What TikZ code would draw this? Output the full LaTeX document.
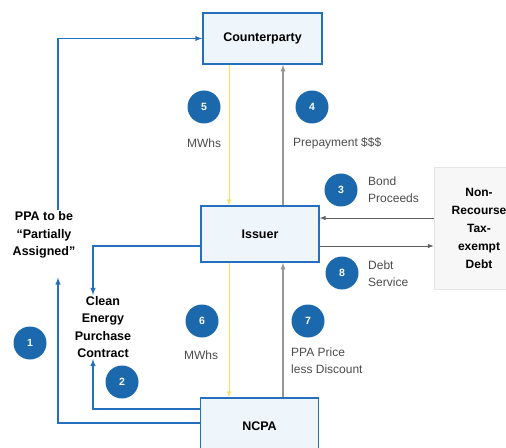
\documentclass[tikz,border=0pt]{standalone}
\usepackage{fontspec}
\setmainfont{Liberation Sans}
\usetikzlibrary{arrows}
\definecolor{B}{RGB}{36, 112, 190}
\definecolor{C}{RGB}{28, 104, 172}
\definecolor{F}{RGB}{238, 245, 251}
\definecolor{Y}{RGB}{250, 222, 90}
\definecolor{G}{RGB}{150, 150, 150}
\definecolor{D}{RGB}{95, 95, 95}
\definecolor{T}{RGB}{75, 75, 75}
\definecolor{N}{RGB}{228, 228, 228}

\tikzset{
  party/.style={draw=B, line width=1.5pt, fill=F, font=\bfseries\fontsize{12.5bp}{15bp}\selectfont},
  debtbox/.style={draw=N, thick, fill=white!97!black, align=center,
    font=\bfseries\fontsize{12bp}{18bp}\selectfont},
  numc/.style={circle, fill=C, text=white, minimum size=33bp, inner sep=0pt,
    font=\bfseries\fontsize{10.5bp}{12bp}\selectfont},
  lbl/.style={text=T, align=left, anchor=west, inner sep=0pt,
    font=\fontsize{12bp}{17bp}\selectfont},
  blk/.style={align=center, inner sep=1pt, font=\bfseries\fontsize{12.5bp}{17.5bp}\selectfont},
  blueline/.style={draw=B, line width=1.4pt, -latex},
  mwh/.style={draw=Y, line width=1pt, -latex},
  cash/.style={draw=G, line width=1.3pt, -latex},
  debt/.style={draw=D, line width=1pt, -latex}
}

\begin{document}
\begin{tikzpicture}[x=1bp, y=-1bp]
   \useasboundingbox (0,0) rectangle (506,448);

   % parties
   \node[party, minimum width=119bp, minimum height=51bp] (cp) at (262.5,38.5) {Counterparty};
   \node[party, minimum width=118bp, minimum height=56bp] (iss) at (260,234) {Issuer};
   \node[party, minimum width=118bp, minimum height=56bp] (ncpa) at (259.5,426) {NCPA};
   \node[debtbox, minimum width=90bp, minimum height=122bp] (nr) at (479,228)
      {Non-\\Recourse\\Tax-\\exempt\\Debt};

   % contract texts
   \node[blk] (ppa) at (44,235) {PPA to be\\``Partially\\Assigned''};
   \node[blk] (cep) at (103,327) {Clean\\Energy\\Purchase\\Contract};

   \coordinate (ylx) at (229,0);
   \coordinate (grx) at (283,0);
   \coordinate (lx) at (58,0);
   \coordinate (cx) at (93,0);

   % flows
   \draw[mwh] (cp.south -| ylx) -- (iss.north -| ylx);
   \draw[cash] (iss.north -| grx) -- (cp.south -| grx);
   \draw[mwh] (iss.south -| ylx) -- (ncpa.north -| ylx);
   \draw[cash] (ncpa.north -| grx) -- (iss.south -| grx);
   \draw[debt] (nr.west |- 0,218) -- (iss.east |- 0,218);
   \draw[debt] (iss.east |- 0,246) -- (nr.west |- 0,246);

   % contracts
   \draw[blueline] (ppa.north -| lx) |- (cp.west);
   \draw[blueline] (ncpa.west |- 0,423) -| ([yshift=-18bp]ppa.south -| lx);
   \draw[blueline] (iss.west |- 0,246) -| (cep.north -| cx);
   \draw[blueline] (ncpa.west |- 0,409) -| (cep.south -| cx);

   % steps
   \node[numc] (n1) at (30,343) {1};
   \node[numc] (n2) at (122,382) {2};
   \node[numc] (n3) at (341,190) {3};
   \node[numc] (n4) at (312,107) {4};
   \node[numc] (n5) at (204,107) {5};
   \node[numc] (n6) at (202,321) {6};
   \node[numc] (n7) at (308,321) {7};
   \node[numc] (n8) at (342,273) {8};

   \node[lbl, anchor=center] (l5) at (204,143) {MWhs};
   \node[lbl] (l4) at (293,143) {Prepayment \$\$\$};
   \node[lbl] (l3) at (368,190) {Bond\\Proceeds};
   \node[lbl] (l8) at (368,274) {Debt\\Service};
   \node[lbl, anchor=center] (l6) at (201,355) {MWhs};
   \node[lbl] (l7) at (291,361) {PPA Price\\less Discount};
\end{tikzpicture}
\end{document}
